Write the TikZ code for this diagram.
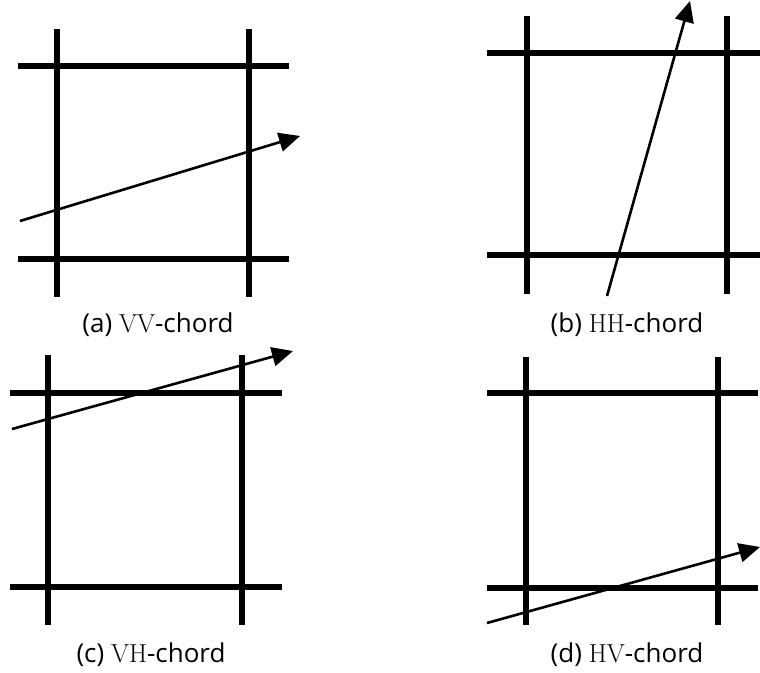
\documentclass[tikz,border=0pt]{standalone}
\usepackage{fontspec}
\setsansfont{Open Sans}
\newfontfamily\capserif{Latin Modern Roman}
\usetikzlibrary{arrows.meta}
\begin{document}
\begin{tikzpicture}[x=1pt,y=-1pt,
  gridline/.style={line width=6.5pt},
  chord/.style={line width=2.6pt,-{Triangle[length=21pt,width=19pt]}},
  captxt/.style={font=\sffamily\fontsize{26}{30}\selectfont, inner sep=0pt}]
\useasboundingbox (0,0) rectangle (760,672);
% (a)
\draw[gridline] (57,29) -- (57,297);
\draw[gridline] (249,29) -- (249,297);
\draw[gridline] (18,66) -- (289,66);
\draw[gridline] (18,259) -- (289,259);
\coordinate (a1) at (20,221);
\coordinate (a2) at (300,136);
\draw[chord] (a1) -- (a2);
\node[captxt] (capa) at (158,325) {(a) {\capserif VV}-chord};
% (b)
\draw[gridline] (527,16) -- (527,294);
\draw[gridline] (727,16) -- (727,294);
\draw[gridline] (487,53) -- (760,53);
\draw[gridline] (487,255) -- (760,255);
\coordinate (b1) at (607,296);
\coordinate (b2) at (690,1);
\draw[chord] (b1) -- (b2);
\node[captxt] (capb) at (627,325) {(b) {\capserif HH}-chord};
% (c)
\draw[gridline] (48,355) -- (48,625);
\draw[gridline] (242,355) -- (242,625);
\draw[gridline] (10,393) -- (282,393);
\draw[gridline] (10,587) -- (282,587);
\coordinate (c1) at (12,429);
\coordinate (c2) at (293,351);
\draw[chord] (c1) -- (c2);
\node[captxt] (capc) at (151,655) {(c) {\capserif VH}-chord};
% (d)
\draw[gridline] (526,357) -- (526,625);
\draw[gridline] (718,357) -- (718,625);
\draw[gridline] (487,393) -- (758,393);
\draw[gridline] (487,588) -- (758,588);
\coordinate (d1) at (487,623);
\coordinate (d2) at (760,547);
\draw[chord] (d1) -- (d2);
\node[captxt] (capd) at (627,655) {(d) {\capserif HV}-chord};
\end{tikzpicture}
\end{document}
